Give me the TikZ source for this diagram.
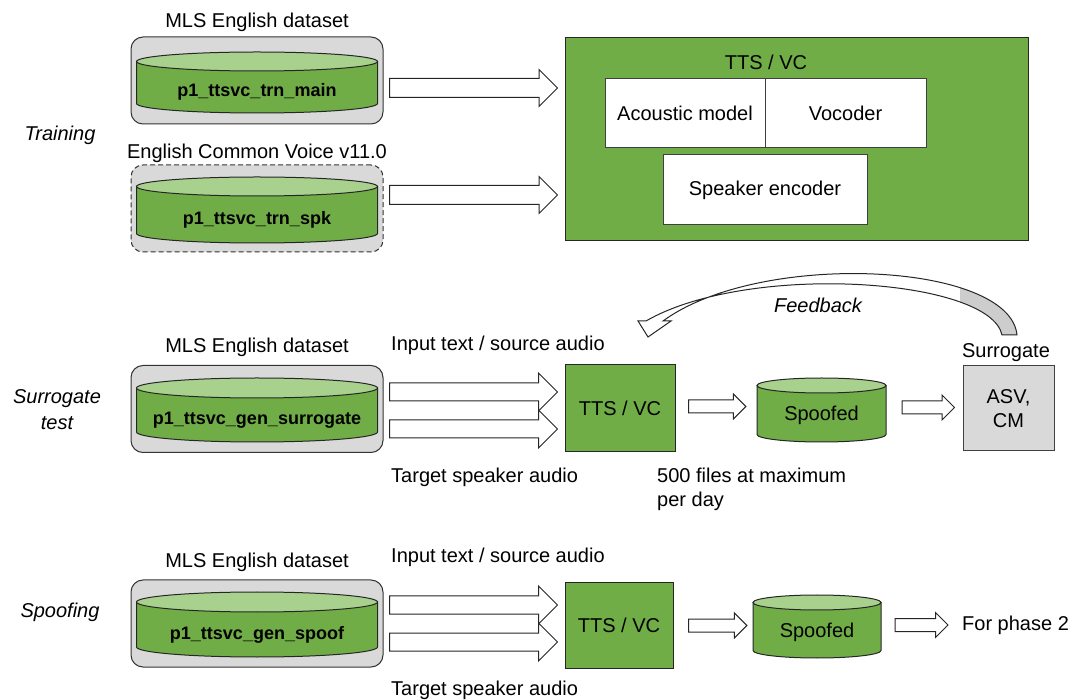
\documentclass[tikz,border=0pt]{standalone}
\usepackage{fontspec}
\setmainfont{Liberation Sans}
\usepackage{xcolor}
\usepackage{tikz}
\usetikzlibrary{positioning, calc}

\definecolor{ttsgreen}{HTML}{70AD47}
\definecolor{ttslight}{HTML}{A9D18E}
\definecolor{boxgray}{HTML}{D9D9D9}
\definecolor{ribbongray}{HTML}{CDCDCD}

\newcommand{\dbdrum}[7]{%
	\draw[drumbody] (#2-#5,#3) -- (#2-#5,#4) arc[start angle=180, end angle=360, x radius=#5pt, y radius=#6pt] -- (#2+#5,#3) -- cycle;
	\draw[drumtop] (#2,#3) ellipse[x radius=#5pt, y radius=#6pt];
	\node[inner sep=0, minimum width=2*#5pt, minimum height=10] (#1) at (#2,{(#3+#4)/2}) {};
	\node[drumtext] (#1-text) at (#2,{(#3+#4)/2+#6}) {#7};}

\newcommand{\blockarrow}[4]{%
	\draw[barrow] let \p1=(#1), \p2=(#2) in
		(\x1,\y1+#3pt) -- (\x2-#4pt,\y1+#3pt) -- (\x2-#4pt,\y1+#4pt) -- (\x2,\y1)
		-- (\x2-#4pt,\y1-#4pt) -- (\x2-#4pt,\y1-#3pt) -- (\x1,\y1-#3pt) -- cycle;}

\begin{document}
\begin{tikzpicture}[x=1pt, y=-1pt, font=\fontsize{20}{24}\selectfont]
	\tikzstyle{dbframe}=[draw=black!80, fill=boxgray, rounded corners=12, line width=1pt, minimum width=252, minimum height=87, inner sep=0]
	\tikzstyle{drumbody}=[draw=black!85, fill=ttsgreen, line width=1pt]
	\tikzstyle{drumtop}=[draw=black!85, fill=ttslight, line width=1pt]
	\tikzstyle{drumtext}=[font=\fontsize{18}{22}\selectfont\bfseries, inner sep=0]
	\tikzstyle{drumplain}=[font=\fontsize{20}{24}\selectfont, inner sep=0]
	\tikzstyle{model}=[draw=black!85, fill=ttsgreen, line width=1pt, inner sep=0]
	\tikzstyle{part}=[draw=black!75, fill=white, line width=1pt, inner sep=0]
	\tikzstyle{barrow}=[draw=black!85, fill=white, line width=1pt]
	\tikzstyle{phase}=[font=\fontsize{20}{26}\selectfont\itshape, align=center]
	\tikzstyle{note}=[anchor=west, inner sep=0, align=left]
	\useasboundingbox (0,0) rectangle (1072,700);

	\node[phase] (training) at (60,135) {Training};
	\node (mls1) at (257,22) {MLS English dataset};
	\node[dbframe] (g1) at (257,80.5) {};
	\dbdrum{trnmain}{257}{61.5}{103.5}{120.5}{9.5}{p1\_ttsvc\_trn\_main}
	\node (cv) at (257,153) {English Common Voice v11.0};
	\node[dbframe, dash pattern=on 5pt off 3pt] (g2) at (257,208.5) {};
	\dbdrum{trnspk}{257}{186.5}{233.5}{120.5}{9.5}{p1\_ttsvc\_trn\_spk}

	\node[model, minimum width=463, minimum height=203] (vc) at (796.5,139.5) {};
	\node (vctitle) at (766,62) {TTS / VC};
	\node[part, minimum width=160, minimum height=69] (am) at (685,113.5) {Acoustic model};
	\node[part, minimum width=161, minimum height=69] (voc) at (845.5,113.5) {Vocoder};
	\node[part, minimum width=204, minimum height=70] (spk) at (765,190) {Speaker encoder};
	\blockarrow{$(g1.east)+(6,7.5)$}{$(vc.west)+(-7,0)$}{9.5}{18.5}
	\blockarrow{$(g2.east)+(6,-13.5)$}{$(vc.west)+(-7,0)$}{9.5}{18.5}

	\draw[barrow, fill=white, path picture={\fill[ribbongray] (960,250) rectangle (1030,340);}]
		(1017,335) .. controls (1010,262) and (760,250) .. (663,321) -- (671,321) -- (648,337) -- (638,321) -- (646,321)
		.. controls (748,262) and (990,278) .. (1002,335) -- cycle;
	\node[font=\fontsize{20}{24}\selectfont\itshape] (fb) at (818,305) {Feedback};

	\node[phase] (surtest) at (57,410) {Surrogate\\test};
	\node (mls2) at (257,347) {MLS English dataset};
	\node[dbframe] (g3) at (257,409) {};
	\dbdrum{gensur}{257}{388}{432}{120.5}{10}{p1\_ttsvc\_gen\_surrogate}
	\node[note] (in2) at (391,345) {Input text / source audio};
	\node[note] (tg2) at (391,477) {Target speaker audio};
	\node[model, minimum width=110, minimum height=87] (tts2) at (620,408.5) {TTS / VC};
	\blockarrow{$(g3.east)+(6,-17)$}{$(tts2.west)+(-7,0)$}{9}{19}
	\blockarrow{$(g3.east)+(6,20)$}{$(tts2.west)+(-7,0)$}{9}{19}
	\dbdrum{spf2}{821.5}{385.5}{434.5}{64.5}{7.5}{}
	\node[drumplain] at (821.5,415) {Spoofed};
	\blockarrow{$(tts2.east)+(13,-2)$}{$(spf2.west)+(-11,0)$}{6.5}{12.5}
	\node[draw=black!75, fill=boxgray, line width=1pt, minimum width=91, minimum height=85, align=center, inner sep=0] (sur) at (1008.5,408.5) {ASV,\\CM};
	\node (surlbl) at (1006,353) {Surrogate};
	\blockarrow{$(spf2.east)+(16,-2.5)$}{$(sur.west)+(-8,0)$}{6.5}{12.5}
	\node[note] (limit) at (657,489) {500 files at maximum\\per day};

	\node[phase] (spoofing) at (60,612) {Spoofing};
	\node (mls3) at (257,562) {MLS English dataset};
	\node[dbframe] (g4) at (257,623.5) {};
	\dbdrum{genspoof}{257}{602}{647}{120.5}{10}{p1\_ttsvc\_gen\_spoof}
	\node[note] (in3) at (391,557) {Input text / source audio};
	\node[note] (tg3) at (391,690) {Target speaker audio};
	\node[model, minimum width=108, minimum height=85] (tts3) at (619,625.5) {TTS / VC};
	\blockarrow{$(g4.east)+(6,-18.5)$}{$(tts3.west)+(-7,0)$}{9}{19}
	\blockarrow{$(g4.east)+(6,18.5)$}{$(tts3.west)+(-7,0)$}{9}{19}
	\dbdrum{spf3}{817}{602.5}{650.5}{64}{7.5}{}
	\node[drumplain] at (817,632) {Spoofed};
	\blockarrow{$(tts3.east)+(15,0)$}{$(spf3.west)+(-6,0)$}{6.5}{12.5}
	\node[note] (phase2) at (962,625) {For phase 2};
	\blockarrow{$(spf3.east)+(14,-1.5)$}{$(phase2.west)+(-14,0)$}{6.5}{12.5}
\end{tikzpicture}
\end{document}
